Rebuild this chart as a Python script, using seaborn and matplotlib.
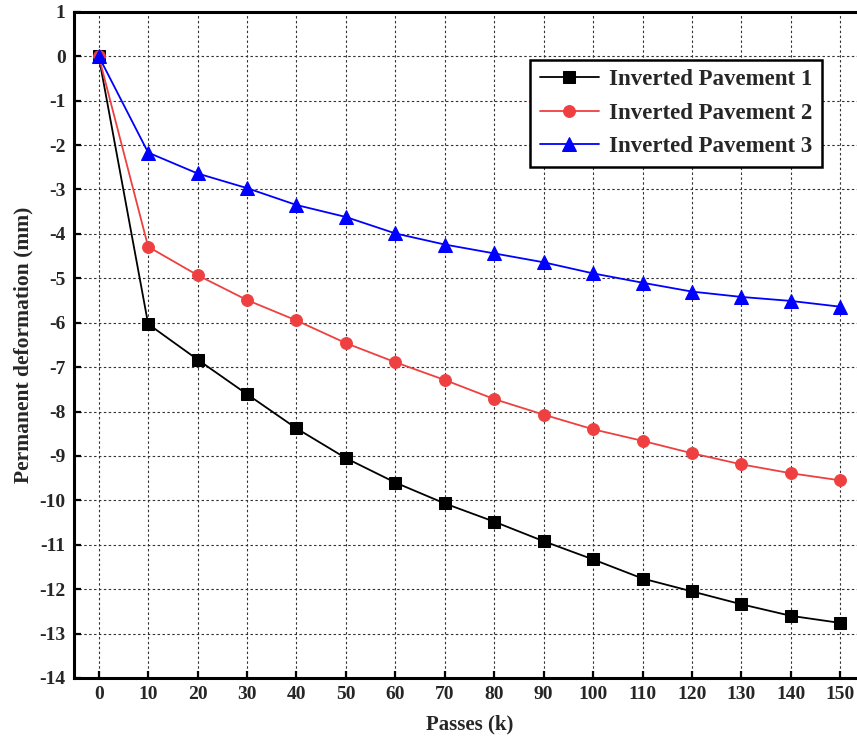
import numpy as np
import pandas as pd
import seaborn as sns
import matplotlib.pyplot as plt

passes = [0, 10, 20, 30, 40, 50, 60, 70, 80, 90, 100, 110, 120, 130, 140, 150]
pavement_1 = [0, -6.03, -6.83, -7.61, -8.38, -9.05, -9.60, -10.07, -10.48, -10.92,
              -11.33, -11.76, -12.05, -12.34, -12.60, -12.76]
pavement_2 = [0, -4.29, -4.93, -5.49, -5.95, -6.46, -6.89, -7.29, -7.72, -8.07,
              -8.40, -8.66, -8.94, -9.19, -9.39, -9.55]
pavement_3 = [0, -2.17, -2.64, -2.97, -3.35, -3.62, -3.99, -4.24, -4.44, -4.64,
              -4.89, -5.10, -5.30, -5.42, -5.51, -5.64]

names = ["Inverted Pavement 1", "Inverted Pavement 2", "Inverted Pavement 3"]
colors = ["#000000", "#EE4040", "#0000FF"]
markers = ["s", "o", "^"]
msizes = [8.5, 8.5, 10]

df = pd.DataFrame({
    "Passes": passes * 3,
    "Deformation": pavement_1 + pavement_2 + pavement_3,
    "Series": np.repeat(names, len(passes)),
})

sns.set_theme(style="white")
plt.rcParams["font.family"] = ["Liberation Serif", "DejaVu Serif"]
plt.rcParams["font.weight"] = "bold"
plt.rcParams["axes.unicode_minus"] = False

fig = plt.figure(figsize=(8.57, 7.40), dpi=100)
ax = fig.add_axes([74 / 857, 62 / 740, (865 - 74) / 857, (678 - 11.8) / 740])

for name, c, m, ms in zip(names, colors, markers, msizes):
    sns.lineplot(data=df[df["Series"] == name], x="Passes", y="Deformation",
                 color=c, marker=m, markersize=ms, markeredgecolor=c,
                 linewidth=1.3, label=name, ax=ax, zorder=3)

ax.set_xlim(-5, 155)
ax.set_ylim(-14, 1)
ax.set_xticks(passes)
ax.set_yticks(range(-14, 2))
ax.grid(True, color="#333333", linestyle=(0, (2.2, 2.2)), linewidth=0.8, zorder=0)
ax.set_axisbelow(True)

for s in ["left", "bottom", "top"]:
    ax.spines[s].set_color("black")
    ax.spines[s].set_linewidth(2.2)
ax.spines["right"].set_visible(False)

ax.tick_params(axis="both", direction="in", length=5, width=1.6, color="black",
               labelsize=14, pad=6, bottom=True, left=True)
for lab in ax.get_xticklabels() + ax.get_yticklabels():
    lab.set_fontweight("bold")

ax.set_xlabel("Passes (k)", fontsize=15, fontweight="bold", labelpad=8)
ax.set_ylabel("Permanent deformation (mm)", fontsize=15.5, fontweight="bold", labelpad=4)

leg = ax.legend(loc="upper right", bbox_to_anchor=(822 / 857, 1 - 60 / 740),
                bbox_transform=fig.transFigure, borderaxespad=0,
                prop={"family": "Liberation Serif", "weight": "bold", "size": 16.5},
                handlelength=2.6, handletextpad=0.45, labelspacing=0.55,
                borderpad=0.4, fancybox=False, framealpha=1, edgecolor="black")
leg.get_frame().set_linewidth(1.8)

fig.savefig("out.png", dpi=100)
